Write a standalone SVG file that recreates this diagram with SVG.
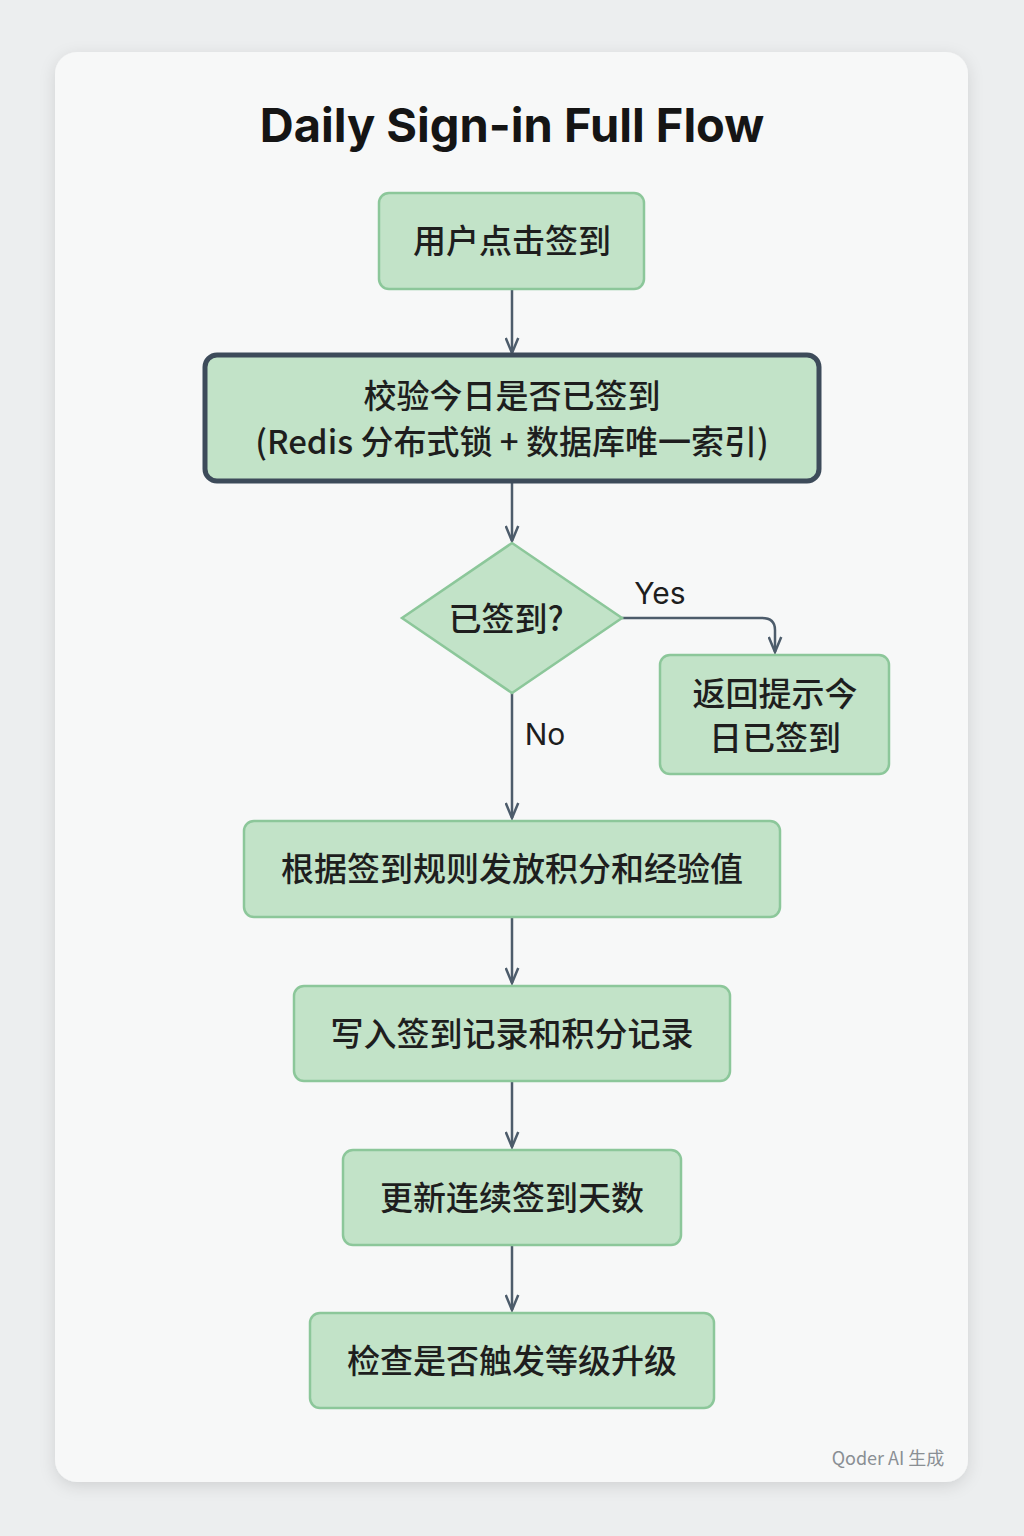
<svg xmlns="http://www.w3.org/2000/svg" width="1024" height="1536" viewBox="0 0 1024 1536">
<style>
.n{fill:#c2e3c8;stroke:#8cc79a;stroke-width:2.5}
.t{font-family:"Noto Sans CJK SC","Noto Sans",sans-serif;font-size:33px;font-weight:500;fill:#1e1e1e;text-anchor:middle}
.c{fill:none;stroke:#4d5c6b;stroke-width:2.5;marker-end:url(#a)}
</style>
<defs>
<marker id="a" viewBox="0 0 16 12" refX="14" refY="6" markerWidth="20" markerHeight="15" orient="auto" markerUnits="userSpaceOnUse"><path d="M2 1L14 6L2 11" fill="none" stroke="#4d5c6b" stroke-width="2"/></marker>
<filter id="s" x="-10%" y="-10%" width="120%" height="120%"><feDropShadow dx="0" dy="4" stdDeviation="8" flood-opacity="0.12"/></filter>
</defs>
<rect width="1024" height="1536" fill="#eceeef"/>
<rect x="55" y="52" width="913" height="1430" rx="22" fill="#f7f8f8" filter="url(#s)"/>
<text x="512" y="142" font-family="Inter,'Liberation Sans',sans-serif" font-weight="bold" font-size="47" text-anchor="middle" fill="#151515">Daily Sign-in Full Flow</text>
<g id="connectors">
<path class="c" d="M512 289V353"/>
<path class="c" d="M512 481V541"/>
<path class="c" d="M622 618H762Q775 618 775 630V652"/>
<path class="c" d="M512 693V818"/>
<path class="c" d="M512 917V983"/>
<path class="c" d="M512 1081V1147"/>
<path class="c" d="M512 1245V1310"/>
<text x="660" y="604" font-family="Inter,'Liberation Sans',sans-serif" font-size="30" text-anchor="middle" fill="#1e1e1e">Yes</text>
<text x="545" y="745" font-family="Inter,'Liberation Sans',sans-serif" font-size="30" text-anchor="middle" fill="#1e1e1e">No</text>
</g>
<g id="n1"><rect class="n" x="379" y="193" width="265" height="96" rx="10"/><text class="t" x="512" y="253">用户点击签到</text></g>
<g id="n2"><rect class="n" x="205" y="355" width="614" height="126" rx="12" style="stroke:#3d4b5a;stroke-width:5"/><text class="t" x="512" y="408">校验今日是否已签到</text><text class="t" x="512" y="454">(Redis 分布式锁 + 数据库唯一索引)</text></g>
<g id="d1"><polygon class="n" points="512,543 622,618 512,693 402,618"/><text class="t" x="506" y="631">已签到?</text></g>
<g id="n3"><rect class="n" x="660" y="655" width="229" height="119" rx="10"/><text class="t" x="775" y="706">返回提示今</text><text class="t" x="775" y="750">日已签到</text></g>
<g id="n4"><rect class="n" x="244" y="821" width="536" height="96" rx="10"/><text class="t" x="512" y="881">根据签到规则发放积分和经验值</text></g>
<g id="n5"><rect class="n" x="294" y="986" width="436" height="95" rx="10"/><text class="t" x="512" y="1046">写入签到记录和积分记录</text></g>
<g id="n6"><rect class="n" x="343" y="1150" width="338" height="95" rx="10"/><text class="t" x="512" y="1210">更新连续签到天数</text></g>
<g id="n7"><rect class="n" x="310" y="1313" width="404" height="95" rx="10"/><text class="t" x="512" y="1373">检查是否触发等级升级</text></g>
<text x="888" y="1465" font-family="'Noto Sans CJK SC','Noto Sans',sans-serif" font-size="18" fill="#8a8f94" text-anchor="middle">Qoder AI 生成</text>
</svg>
